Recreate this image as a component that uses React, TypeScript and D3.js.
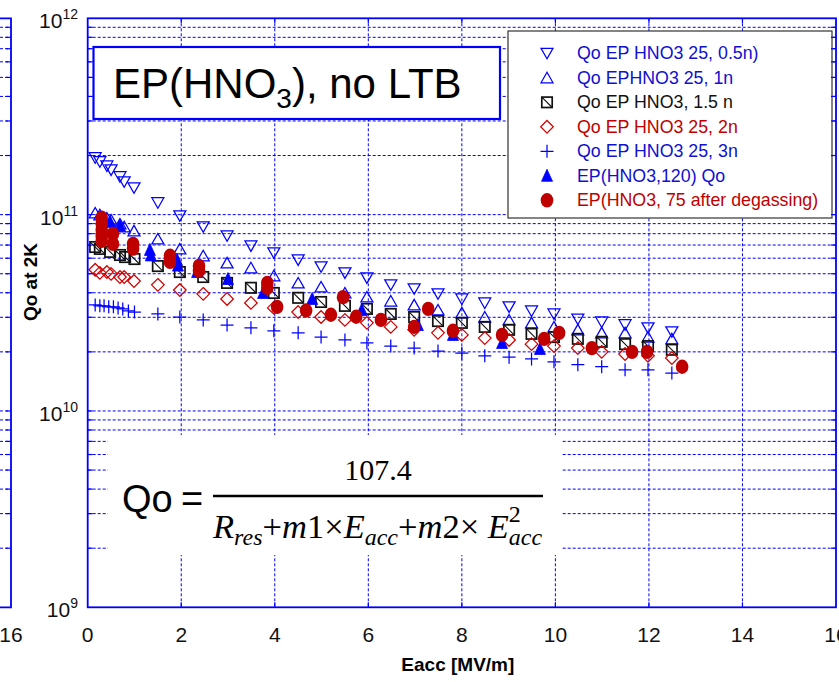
import React from 'react';
import * as d3 from 'd3';

const W = 839;
const H = 682;

const xTicks = [0, 2, 4, 6, 8, 10, 12, 14, 16];
const yDecadeExps = [9, 10, 11, 12];

// Series: Qo EP HNO3 25, 0.5n)  (open down triangle)
const E_05n = [0.16, 0.26, 0.41, 0.5, 0.69, 0.78, 0.99, 1.5, 1.97, 2.47, 2.98, 3.49, 3.98, 4.5, 4.99, 5.5, 5.97, 6.48, 6.98, 7.49, 8.0, 8.49, 9.01, 9.49, 9.97, 10.48, 10.99, 11.49, 11.98, 12.49];
const Q_05n = [1.95e11, 1.86e11, 1.77e11, 1.69e11, 1.56e11, 1.47e11, 1.37e11, 1.15e11, 9.86e10, 8.67e10, 7.8e10, 6.93e10, 6.39e10, 5.88e10, 5.42e10, 5.05e10, 4.76e10, 4.39e10, 4.19e10, 3.95e10, 3.72e10, 3.55e10, 3.39e10, 3.23e10, 3.12e10, 2.94e10, 2.84e10, 2.75e10, 2.65e10, 2.53e10];

// Series: Qo EPHNO3 25, 1n (open up triangle)
const E_1n = [0.16, 0.26, 0.41, 0.5, 0.69, 0.78, 0.99, 1.5, 1.97, 2.47, 2.98, 3.49, 3.98, 4.5, 4.99, 5.5, 5.97, 6.48, 6.98, 7.49, 8.0, 8.49, 9.01, 9.49, 9.97, 10.48, 10.99, 11.49, 11.98, 12.49];
const Q_1n = [1.02e11, 9.98e10, 9.62e10, 9.4e10, 8.97e10, 8.67e10, 8.27e10, 7.52e10, 6.69e10, 6.17e10, 5.68e10, 5.36e10, 4.88e10, 4.49e10, 4.28e10, 3.99e10, 3.81e10, 3.63e10, 3.47e10, 3.27e10, 3.16e10, 3.01e10, 2.91e10, 2.81e10, 2.68e10, 2.59e10, 2.5e10, 2.5e10, 2.38e10, 2.33e10];

// Series: Qo EP HNO3, 1.5 n (square with diagonal)
const E_15n = [0.16, 0.26, 0.48, 0.69, 0.8, 1.0, 1.5, 1.97, 2.47, 2.98, 3.49, 3.98, 4.5, 4.99, 5.5, 5.97, 6.48, 6.98, 7.49, 8.0, 8.49, 9.01, 9.49, 9.97, 10.48, 10.99, 11.49, 11.98, 12.49];
const Q_15n = [6.84e10, 6.69e10, 6.46e10, 6.23e10, 6.08e10, 5.94e10, 5.47e10, 5.1e10, 4.81e10, 4.49e10, 4.24e10, 3.99e10, 3.77e10, 3.59e10, 3.43e10, 3.31e10, 3.12e10, 3.01e10, 2.87e10, 2.81e10, 2.68e10, 2.59e10, 2.47e10, 2.38e10, 2.33e10, 2.25e10, 2.19e10, 2.14e10, 2.05e10];

// Series: Qo EP HNO3 25, 2n (open diamond)
const E_2n = [0.16, 0.26, 0.41, 0.5, 0.69, 0.78, 0.99, 1.5, 1.97, 2.47, 2.98, 3.49, 3.98, 4.5, 4.99, 5.5, 5.97, 6.48, 6.98, 7.49, 8.0, 8.49, 9.01, 9.49, 9.97, 10.48, 10.99, 11.49, 11.98, 12.49];
const Q_2n = [5.24e10, 5.05e10, 5.1e10, 4.99e10, 4.81e10, 4.81e10, 4.59e10, 4.39e10, 4.13e10, 3.95e10, 3.72e10, 3.55e10, 3.35e10, 3.19e10, 3.01e10, 2.91e10, 2.81e10, 2.68e10, 2.59e10, 2.5e10, 2.44e10, 2.35e10, 2.3e10, 2.19e10, 2.14e10, 2.09e10, 2.0e10, 1.95e10, 1.91e10, 1.86e10];

// Series: Qo EP HNO3 25, 3n (plus)
const E_3n = [0.16, 0.26, 0.35, 0.45, 0.55, 0.65, 0.75, 0.87, 1.0, 1.5, 1.97, 2.47, 2.98, 3.49, 3.98, 4.5, 4.99, 5.5, 5.97, 6.48, 6.98, 7.49, 8.0, 8.49, 9.01, 9.49, 9.97, 10.48, 10.99, 11.49, 11.98, 12.49];
const Q_3n = [3.47e10, 3.43e10, 3.43e10, 3.39e10, 3.39e10, 3.35e10, 3.31e10, 3.23e10, 3.19e10, 3.12e10, 3.01e10, 2.91e10, 2.74e10, 2.65e10, 2.56e10, 2.5e10, 2.38e10, 2.3e10, 2.22e10, 2.14e10, 2.09e10, 2.02e10, 1.97e10, 1.91e10, 1.88e10, 1.84e10, 1.78e10, 1.72e10, 1.68e10, 1.62e10, 1.62e10, 1.56e10];

// Series: EP(HNO3,120) Qo (filled up triangle)
const E_120 = [0.3, 0.48, 0.69, 1.33, 1.35, 1.91, 1.93, 2.34, 3.0, 3.75, 4.8, 5.86, 7.06, 7.81, 8.86, 9.67];
const Q_120 = [9.5e10, 9.18e10, 8.77e10, 6.61e10, 6.2e10, 5.88e10, 5.5e10, 5.1e10, 4.7e10, 3.99e10, 3.72e10, 3.27e10, 2.74e10, 2.44e10, 2.22e10, 2.07e10];

// Series: EP(HNO3, 75 after degassing) (filled circle)
const E_75 = [0.3, 0.3, 0.3, 0.3, 0.3, 0.54, 0.54, 0.97, 0.97, 1.76, 1.76, 2.38, 2.38, 3.84, 3.84, 4.05, 4.67, 5.2, 5.46, 5.74, 6.27, 6.98, 7.28, 7.81, 8.86, 9.76, 10.08, 10.78, 11.64, 11.96, 12.71];
const Q_75 = [9.64e10, 8.98e10, 8.36e10, 7.79e10, 7.35e10, 7.98e10, 7.1e10, 7.1e10, 6.71e10, 6.17e10, 5.75e10, 5.48e10, 5.18e10, 4.49e10, 4.24e10, 3.39e10, 3.25e10, 3.09e10, 3.8e10, 3.02e10, 2.91e10, 2.68e10, 3.31e10, 2.56e10, 2.44e10, 2.33e10, 2.5e10, 2.09e10, 2.0e10, 2.0e10, 1.68e10];

const legendLabels = [
  'Qo EP HNO3 25, 0.5n)',
  'Qo EPHNO3 25, 1n',
  'Qo EP HNO3, 1.5 n',
  'Qo EP HNO3 25,  2n',
  'Qo EP HNO3 25,  3n',
  'EP(HNO3,120) Qo',
  'EP(HNO3, 75 after degassing)',
];

const BLUE = '#0000ff';
const TXTBLUE = '#1010d0';
const RED = '#d00000';
const DRED = '#c00000';
const BLACK = '#111111';

type MType = 'tdown' | 'tup' | 'sq' | 'dia' | 'plus' | 'tfill' | 'dot';

const seriesDefs: { e: number[]; q: number[]; m: MType; color: string; text: string }[] = [
  { e: E_05n, q: Q_05n, m: 'tdown', color: BLUE, text: TXTBLUE },
  { e: E_1n, q: Q_1n, m: 'tup', color: BLUE, text: TXTBLUE },
  { e: E_15n, q: Q_15n, m: 'sq', color: BLACK, text: BLACK },
  { e: E_2n, q: Q_2n, m: 'dia', color: RED, text: DRED },
  { e: E_3n, q: Q_3n, m: 'plus', color: BLUE, text: TXTBLUE },
  { e: E_120, q: Q_120, m: 'tfill', color: BLUE, text: TXTBLUE },
  { e: E_75, q: Q_75, m: 'dot', color: DRED, text: DRED },
];

function Marker({ m, cx, cy, color }: { m: MType; cx: number; cy: number; color: string }) {
  const sw = 1.25;
  switch (m) {
    case 'tdown':
      return <path d={`M${cx - 6},${cy - 5}L${cx + 6},${cy - 5}L${cx},${cy + 5.5}Z`} fill="none" stroke={color} strokeWidth={sw} />;
    case 'tup':
      return <path d={`M${cx - 6},${cy + 5}L${cx + 6},${cy + 5}L${cx},${cy - 5.5}Z`} fill="none" stroke={color} strokeWidth={sw} />;
    case 'sq':
      return (
        <g>
          <rect x={cx - 5.2} y={cy - 5.2} width={10.4} height={10.4} fill="none" stroke={color} strokeWidth={1.7} />
          <line x1={cx - 5.2} y1={cy - 5.2} x2={cx + 5.2} y2={cy + 5.2} stroke={color} strokeWidth={1.1} />
        </g>
      );
    case 'dia':
      return <path d={`M${cx},${cy - 6.3}L${cx + 6.3},${cy}L${cx},${cy + 6.3}L${cx - 6.3},${cy}Z`} fill="none" stroke={color} strokeWidth={sw} />;
    case 'plus':
      return <path d={`M${cx - 6.5},${cy}H${cx + 6.5}M${cx},${cy - 6.5}V${cy + 6.5}`} fill="none" stroke={color} strokeWidth={sw} />;
    case 'tfill':
      return <path d={`M${cx - 5.5},${cy + 5.5}L${cx + 5.5},${cy + 5.5}L${cx},${cy - 6.5}Z`} fill={color} stroke={color} strokeWidth={0.8} />;
    case 'dot':
      return <ellipse cx={cx} cy={cy} rx={6.3} ry={7.2} fill={color} />;
  }
  return null;
}

export default function App() {
  const x = d3.scaleLinear().domain([0, 16]).range([87.7, 836]);
  const y = d3.scaleLog().domain([1e9, 1e12]).range([607.3, 18.3]);
  const [x0, x1] = x.range();
  const yTop = y(1e12);
  const yBot = y(1e9);

  const gridVals: number[] = [];
  yDecadeExps.slice(0, 3).forEach((p) => {
    for (let m = 1; m <= 9; m++) gridVals.push(m * Math.pow(10, p));
  });
  const innerGrid = gridVals.filter((v) => v > 1e9 && v < 1e12);
  const xGrid = xTicks.filter((t) => t > 0 && t < 16);

  const font = 'Liberation Sans, Arial, sans-serif';
  const serif = 'Liberation Serif, Times New Roman, serif';

  const legX = 508, legY = 31, legW = 324, legH = 187;
  const legRow0 = 53.3, legStep = 24.5;

  return (
    <svg width={W} height={H} style={{ position: 'absolute', left: 0, top: 0, background: '#fff' }} fontFamily={font}>
      <rect x={0} y={0} width={W} height={H} fill="#fff" />

      {/* left neighbour panel (cropped) */}
      <g>
        {innerGrid.map((v, i) => (
          <line key={'lg' + i} x1={0} x2={11} y1={y(v)} y2={y(v)} stroke={BLUE} strokeWidth={1} strokeDasharray="3,2" />
        ))}
        {innerGrid.map((v, i) => (
          <line key={'lt' + i} x1={6} x2={11} y1={y(v)} y2={y(v)} stroke={BLUE} strokeWidth={1.2} />
        ))}
        <path d={`M0,${yTop}H11V${yBot}H0`} fill="none" stroke={BLUE} strokeWidth={1.8} />
        <text x={11} y={642} fontSize={21} textAnchor="middle" fill="#111">16</text>
      </g>

      {/* grid */}
      {innerGrid.map((v, i) => (
        <line key={'hg' + i} x1={x0} x2={x1} y1={y(v)} y2={y(v)} stroke={BLUE} strokeWidth={1} strokeDasharray="3,2" />
      ))}
      {xGrid.map((t) => (
        <line key={'vg' + t} x1={x(t)} x2={x(t)} y1={yTop} y2={yBot} stroke={BLUE} strokeWidth={1} strokeDasharray="3,2" />
      ))}

      {/* title box */}
      <rect x={93.5} y={47} width={406.5} height={72} fill="#fff" stroke={BLUE} strokeWidth={2.2} />
      <text x={113} y={98} fontSize={42} fill="#000">
        EP(HNO<tspan fontSize={28} dy={10}>3</tspan><tspan dy={-10} fontSize={42}>), no LTB</tspan>
      </text>

      {/* legend box */}
      <rect x={legX} y={legY} width={legW} height={legH} fill="#fff" stroke="#333" strokeWidth={1.2} />
      {seriesDefs.map((s, i) => (
        <g key={'leg' + i}>
          <Marker m={s.m} cx={547} cy={legRow0 + i * legStep} color={s.color} />
          <text x={577} y={legRow0 + i * legStep + 6} fontSize={17.8} fill={s.text}>{legendLabels[i]}</text>
        </g>
      ))}

      {/* equation box */}
      <rect x={108} y={435} width={454} height={120} fill="#fff" />
      <text x={122} y={512} fontSize={38} fill="#000">Qo</text>
      <text x={181} y={512} fontSize={38} fill="#000">=</text>
      <text x={378} y={480} fontSize={30} textAnchor="middle" fontFamily={serif} fill="#000">107.4</text>
      <line x1={213} x2={543} y1={496} y2={496} stroke="#000" strokeWidth={2.5} />
      <text x={213} y={538} fontSize={34.5} fontFamily={serif} fill="#000">
        <tspan fontStyle="italic">R</tspan>
        <tspan fontStyle="italic" fontSize={24} dy={7}>res</tspan>
        <tspan dy={-7}>+</tspan>
        <tspan fontStyle="italic">m</tspan>
        <tspan>1×</tspan>
        <tspan fontStyle="italic">E</tspan>
        <tspan fontStyle="italic" fontSize={24} dy={7}>acc</tspan>
        <tspan dy={-7}>+</tspan>
        <tspan fontStyle="italic">m</tspan>
        <tspan>2× </tspan>
        <tspan fontStyle="italic">E</tspan>
        <tspan fontSize={24} dy={-16}>2</tspan>
        <tspan fontStyle="italic" fontSize={24} dx={-12} dy={23}>acc</tspan>
      </text>

      {/* data */}
      {seriesDefs.map((s, si) => (
        <g key={'s' + si}>
          {s.e.map((e, i) => (
            <Marker key={i} m={s.m} cx={x(e)} cy={y(s.q[i])} color={s.color} />
          ))}
        </g>
      ))}

      {/* axis frame and ticks */}
      <rect x={x0} y={yTop} width={x1 - x0} height={yBot - yTop} fill="none" stroke={BLUE} strokeWidth={1.8} />
      {innerGrid.map((v, i) => (
        <g key={'yt' + i}>
          <line x1={x0} x2={x0 + 5} y1={y(v)} y2={y(v)} stroke={BLUE} strokeWidth={1.2} />
          <line x1={x1 - 5} x2={x1} y1={y(v)} y2={y(v)} stroke={BLUE} strokeWidth={1.2} />
        </g>
      ))}
      {xGrid.map((t) => (
        <g key={'xt' + t}>
          <line x1={x(t)} x2={x(t)} y1={yBot} y2={yBot - 5} stroke={BLUE} strokeWidth={1.2} />
          <line x1={x(t)} x2={x(t)} y1={yTop} y2={yTop + 5} stroke={BLUE} strokeWidth={1.2} />
        </g>
      ))}

      {/* tick labels */}
      {xTicks.map((t) => (
        <text key={'xl' + t} x={x(t)} y={642} fontSize={21} textAnchor="middle" fill="#111">{t}</text>
      ))}
      {yDecadeExps.map((p) => (
        <text key={'yl' + p} x={78} y={y(Math.pow(10, p)) + 10} fontSize={21} textAnchor="end" fill="#111">
          10<tspan fontSize={14} dy={-9}>{p}</tspan>
        </text>
      ))}

      {/* axis titles */}
      <text x={(x0 + x1) / 2 - 4} y={671} fontSize={19} fontWeight="bold" textAnchor="middle" fill="#000">Eacc [MV/m]</text>
      <text transform={`translate(37,282) rotate(-90)`} fontSize={19} fontWeight="bold" textAnchor="middle" fill="#000">Qo at 2K</text>
    </svg>
  );
}
